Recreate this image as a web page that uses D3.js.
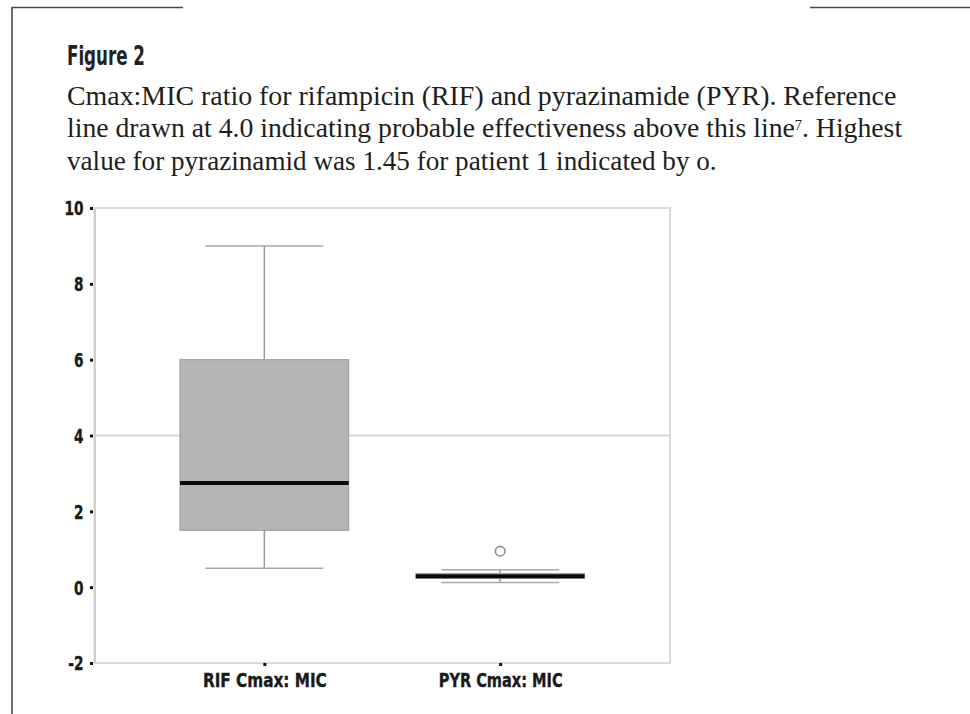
<!DOCTYPE html>
<html>
<head>
<meta charset="utf-8">
<script src="https://cdn.jsdelivr.net/npm/d3@7"></script>
<style>
  html, body { margin: 0; padding: 0; background: #fff; }
  svg { display: block; }
</style>
</head>
<body>
<svg id="fig" width="970" height="714"></svg>
<script>
// Box-plot summaries for the Cmax:MIC ratio of each drug
const categories = ["RIF Cmax: MIC", "PYR Cmax: MIC"];
const whiskerLow = [0.5, 0.12];
const quartile1 = [1.5, 0.23];
const medians = [2.75, 0.29];
const quartile3 = [6.0, 0.36];
const whiskerHigh = [9.0, 0.46];
const outliers = [[], [0.95]];
const yTicks = [-2, 0, 2, 4, 6, 8, 10];
const referenceValue = 4.0;

const titleText = "Figure 2";
const captionLines = [
  [{t: "Cmax:MIC ratio for rifampicin (RIF) and pyrazinamide (PYR). Reference"}],
  [{t: "line drawn at 4.0 indicating probable effectiveness above this line"}, {t: "7", sup: true}, {t: ". Highest"}],
  [{t: "value for pyrazinamid was 1.45 for patient 1 indicated by o."}]
];

const svg = d3.select("#fig");
const condensed = "'Liberation Sans Narrow', 'Arial Narrow', 'DejaVu Sans Condensed', sans-serif";
const serif = "'Liberation Serif', 'Times New Roman', serif";

// stretch a text element horizontally about an anchor x so it spans a given width
function fitWidth(sel, x0, target) {
  const w = sel.node().getBBox().width;
  sel.attr("transform", `translate(${x0},0) scale(${target / w},1) translate(${-x0},0)`);
}

// page frame lines
const frame = svg.append("g").attr("stroke", "#4a4a4a").attr("stroke-width", 1.6).attr("fill", "none");
frame.append("path").attr("d", "M183,7.5H12V714");
frame.append("path").attr("d", "M810,7.5H970");

// heading and caption
const title = svg.append("text")
  .attr("x", 67).attr("y", 65)
  .attr("font-family", condensed).attr("font-weight", "bold")
  .attr("font-size", 26).attr("fill", "#222")
  .text(titleText);
fitWidth(title, 67, 78);

const captionWidths = [830, 836, 650];
captionLines.forEach((parts, i) => {
  const t = svg.append("text")
    .attr("x", 67).attr("y", 105 + i * 32.5)
    .attr("font-family", serif).attr("font-size", 27).attr("fill", "#1e1e1e");
  parts.forEach(p => {
    const ts = t.append("tspan").text(p.t);
    if (p.sup) ts.attr("font-size", 14).attr("baseline-shift", "super");
  });
  fitWidth(t, 67, captionWidths[i]);
});

// plot area
const plot = {left: 94.5, right: 670, top: 208, bottom: 663};

const y = d3.scaleLinear().domain([-2, 10]).range([plot.bottom, plot.top]);
const x = d3.scalePoint().domain(categories).range([plot.left, plot.right]).padding(0.72);
const step = x.step();
const boxW = step * 0.715;
const capW = step * 0.5;

// plot border
svg.append("rect")
  .attr("x", plot.left).attr("y", plot.top)
  .attr("width", plot.right - plot.left).attr("height", plot.bottom - plot.top)
  .attr("fill", "none").attr("stroke", "#dcdcdc").attr("stroke-width", 2);

// reference line
svg.append("line")
  .attr("x1", plot.left).attr("x2", plot.right)
  .attr("y1", y(referenceValue)).attr("y2", y(referenceValue))
  .attr("stroke", "#d6d6d6").attr("stroke-width", 2);

// y axis
const yAxis = svg.append("g")
  .attr("transform", `translate(${plot.left},0)`)
  .call(d3.axisLeft(y).tickValues(yTicks).tickSize(0).tickPadding(11).tickFormat(d => String(d)));
yAxis.select(".domain").attr("stroke", "#cfcfcf").attr("stroke-width", 2);
yAxis.selectAll(".tick text")
  .attr("font-family", condensed).attr("font-weight", "bold")
  .attr("font-size", 19).attr("fill", "#1a1a1a")
  .attr("stroke", "#1a1a1a").attr("stroke-width", 0.35)
  .attr("dy", "0.36em")
  .attr("transform", "translate(-11,0) scale(0.8,1) translate(11,0)");
yAxis.selectAll(".tick").append("rect")
  .attr("x", -4.5).attr("y", -1.5).attr("width", 3).attr("height", 3).attr("fill", "#111");

// x axis
const xAxis = svg.append("g")
  .attr("transform", `translate(0,${plot.bottom})`)
  .call(d3.axisBottom(x).tickSize(0).tickPadding(8));
xAxis.select(".domain").remove();
xAxis.selectAll(".tick text")
  .attr("font-family", condensed).attr("font-weight", "bold")
  .attr("font-size", 19).attr("fill", "#1a1a1a")
  .attr("stroke", "#1a1a1a").attr("stroke-width", 0.35)
  .attr("dy", "0.85em")
  .each(function () { fitWidth(d3.select(this), 0, 124); });
xAxis.selectAll(".tick").append("rect")
  .attr("x", -1.5).attr("y", 0).attr("width", 3).attr("height", 3).attr("fill", "#111");

// boxes
const boxes = svg.append("g").selectAll("g")
  .data(categories.map((c, i) => ({
    c, lo: whiskerLow[i], q1: quartile1[i], med: medians[i], q3: quartile3[i], hi: whiskerHigh[i], out: outliers[i]
  })))
  .join("g")
  .attr("transform", d => `translate(${x(d.c)},0)`);

boxes.append("line")
  .attr("x1", 0).attr("x2", 0)
  .attr("y1", d => y(d.hi)).attr("y2", d => y(d.q3))
  .attr("stroke", "#9a9a9a").attr("stroke-width", 1.5);
boxes.append("line")
  .attr("x1", 0).attr("x2", 0)
  .attr("y1", d => y(d.q1)).attr("y2", d => y(d.lo))
  .attr("stroke", "#9a9a9a").attr("stroke-width", 1.5);
boxes.append("line")
  .attr("x1", -capW / 2).attr("x2", capW / 2)
  .attr("y1", d => y(d.hi)).attr("y2", d => y(d.hi))
  .attr("stroke", "#a8a8a8").attr("stroke-width", 1.5);
boxes.append("line")
  .attr("x1", -capW / 2).attr("x2", capW / 2)
  .attr("y1", d => y(d.lo)).attr("y2", d => y(d.lo))
  .attr("stroke", "#a8a8a8").attr("stroke-width", 1.5);

boxes.append("rect")
  .attr("x", -boxW / 2).attr("width", boxW)
  .attr("y", d => y(d.q3)).attr("height", d => y(d.q1) - y(d.q3))
  .attr("fill", "#b5b5b5").attr("stroke", "#a3a3a3").attr("stroke-width", 1.2);

boxes.append("line")
  .attr("x1", -boxW / 2).attr("x2", boxW / 2)
  .attr("y1", d => y(d.med)).attr("y2", d => y(d.med))
  .attr("stroke", "#0a0a0a").attr("stroke-width", 4);

boxes.selectAll("circle")
  .data(d => d.out)
  .join("circle")
  .attr("cx", 0).attr("cy", v => y(v)).attr("r", 4.8)
  .attr("fill", "#fff").attr("stroke", "#8a8a8a").attr("stroke-width", 1.6);
</script>
</body>
</html>
